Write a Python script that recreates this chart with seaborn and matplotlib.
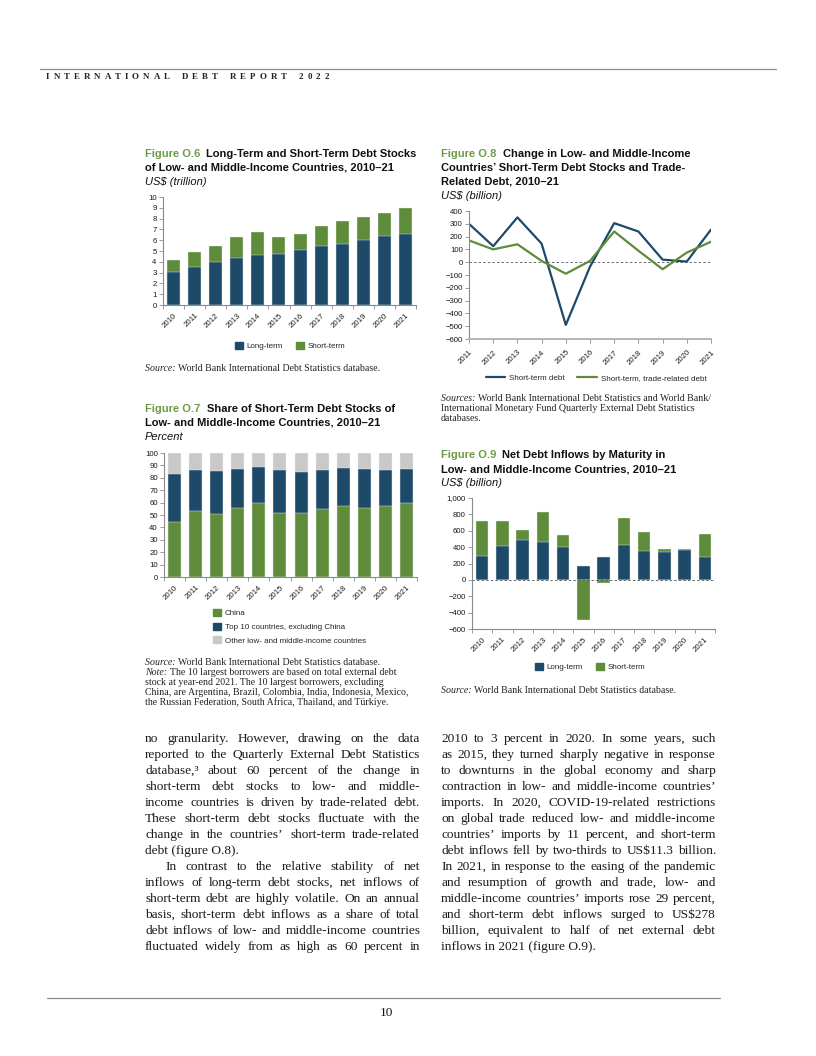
import matplotlib
matplotlib.use('Agg')
import numpy as np
import pandas as pd
import matplotlib.pyplot as plt
import seaborn as sns
from matplotlib.lines import Line2D
from matplotlib.patches import Patch
from matplotlib.ticker import FixedLocator, FuncFormatter

W, H = 816, 1056

years = [str(y) for y in range(2010, 2022)]

# Figure O.6, US$ trillion
o6_long = [3.05, 3.5, 3.95, 4.35, 4.65, 4.7, 5.05, 5.45, 5.65, 6.0, 6.35, 6.55]
o6_short = [1.15, 1.45, 1.55, 1.95, 2.1, 1.6, 1.55, 1.85, 2.1, 2.15, 2.2, 2.45]

# Figure O.7, percent
o7_china = [44.5, 53.5, 50.5, 55.5, 60.0, 52.0, 52.0, 55.0, 57.5, 56.0, 57.5, 59.5]
o7_top10 = [38.5, 32.5, 35.0, 32.0, 29.0, 34.0, 33.0, 31.5, 30.5, 31.0, 29.0, 27.5]

# Figure O.8, US$ billion
o8_years = list(range(2011, 2022))
o8_short = [300, 125, 350, 145, -490, -35, 305, 240, 20, 5, 255]
o8_trade = [170, 100, 140, 10, -90, 10, 240, 90, -55, 75, 160]

# Figure O.9, US$ billion
o9_long = [290, 410, 485, 460, 400, 175, 275, 425, 355, 340, 365, 280]
o9_short = [425, 310, 125, 370, 145, -490, -35, 325, 235, 35, 15, 280]

left_lines = [
    "no granularity. However, drawing on the data",
    "reported to the Quarterly External Debt Statistics",
    "database,\u00b3 about 60 percent of the change in",
    "short-term debt stocks to low- and middle-",
    "income countries is driven by trade-related debt.",
    "These short-term debt stocks fluctuate with the",
    "change in the countries\u2019 short-term trade-related",
    "debt (figure O.8).",
    "In contrast to the relative stability of net",
    "inflows of long-term debt stocks, net inflows of",
    "short-term debt are highly volatile. On an annual",
    "basis, short-term debt inflows as a share of total",
    "debt inflows of low- and middle-income countries",
    "fluctuated widely from as high as 60 percent in",
]
right_lines = [
    "2010 to 3 percent in 2020. In some years, such",
    "as 2015, they turned sharply negative in response",
    "to downturns in the global economy and sharp",
    "contraction in low- and middle-income countries\u2019",
    "imports. In 2020, COVID-19-related restrictions",
    "on global trade reduced low- and middle-income",
    "countries\u2019 imports by 11 percent, and short-term",
    "debt inflows fell by two-thirds to US$11.3 billion.",
    "In 2021, in response to the easing of the pandemic",
    "and resumption of growth and trade, low- and",
    "middle-income countries\u2019 imports rose 29 percent,",
    "and short-term debt inflows surged to US$278",
    "billion, equivalent to half of net external debt",
    "inflows in 2021 (figure O.9).",
]

NAVY = '#1e4a6a'
GREEN = '#5e8c3b'
GREY = '#c9c9c9'
TITLE_GREEN = '#6c9c44'
AXIS = '#8a8a8a'

sns.set_style('ticks')
plt.rcParams['font.family'] = ['Liberation Sans', 'DejaVu Sans']
plt.rcParams['axes.unicode_minus'] = True

fig = plt.figure(figsize=(W / 100, H / 100), dpi=100)
renderer = fig.canvas.get_renderer()

SANS = dict(family=['Liberation Sans', 'DejaVu Sans'])
SERIF = dict(family=['Liberation Serif', 'DejaVu Serif'])
SRC = 7.1
TICK = 5.6
LEG = 5.8


def put(x, y, s, **kw):
    kw.setdefault('va', 'baseline')
    return fig.text(x / W, 1 - y / H, s, **kw)


def width(t):
    return t.get_window_extent(renderer).width


def run(x, y, parts):
    for s, kw in parts:
        t = put(x, y, s, **kw)
        x += width(t)


def hline(x0, x1, y, color='#8c8c8c', lw=0.9):
    fig.add_artist(Line2D([x0 / W, x1 / W], [1 - y / H] * 2,
                          transform=fig.transFigure, color=color, lw=lw))


def px_axes(l, t, r, b):
    return fig.add_axes([l / W, 1 - b / H, (r - l) / W, (b - t) / H])


def style(ax):
    sns.despine(ax=ax)
    for s in ['left', 'bottom']:
        ax.spines[s].set_color(AXIS)
        ax.spines[s].set_linewidth(0.8)
    ax.tick_params(axis='both', which='both', colors=AXIS, labelcolor='#1a1a1a',
                   labelsize=TICK, length=3, width=0.6, pad=1.5)
    ax.set_xlabel('')
    ax.set_ylabel('')
    ax.set_facecolor('none')


def cat_x(ax):
    ax.set_xlim(-0.5, 11.5)
    ax.set_xticks(range(12))
    ax.set_xticklabels(years, rotation=45, ha='right', rotation_mode='anchor')
    ax.xaxis.set_minor_locator(FixedLocator(np.arange(-0.5, 12, 1)))
    ax.tick_params(axis='x', which='major', length=0, pad=5)
    ax.tick_params(axis='x', which='minor', length=3)


def title(x, y, fig_no, lines, sub):
    TS = 8.0
    t = put(x, y, 'Figure ' + fig_no + '  ', color=TITLE_GREEN, fontsize=TS, fontweight='bold', **SANS)
    put(x + width(t), y, lines[0], color='#111111', fontsize=TS, fontweight='bold', **SANS)
    for i, ln in enumerate(lines[1:]):
        put(x, y + 14 * (i + 1), ln, color='#111111', fontsize=TS, fontweight='bold', **SANS)
    put(x, y + 14 * len(lines), sub, color='#111111', fontsize=TS, style='italic', **SANS)


def source(x, y, label, rest, extra=()):
    run(x, y, [(label + ' ', dict(fontsize=SRC, style='italic', color='#222222', **SERIF)),
               (rest, dict(fontsize=SRC, color='#222222', **SERIF))])
    for i, item in enumerate(extra):
        yy = y + 10 * (i + 1)
        if isinstance(item, tuple):
            run(x, yy, [(item[0] + ' ', dict(fontsize=SRC, style='italic', color='#222222', **SERIF)),
                        (item[1], dict(fontsize=SRC, color='#222222', **SERIF))])
        else:
            put(x, yy, item, fontsize=SRC, color='#222222', **SERIF)


def legend(ax, handles, cx, cy, ncol, loc='center', **kw):
    ax.legend(handles=handles, loc=loc, bbox_to_anchor=(cx / W, 1 - cy / H),
              bbox_transform=fig.transFigure, ncol=ncol, frameon=False,
              fontsize=LEG, borderaxespad=0, borderpad=0, **kw)


# ---------------- header / footer ----------------
hline(40, 776, 69)
head = "INTERNATIONAL DEBT REPORT 2022"
hk = dict(fontsize=6.4, fontweight='bold', color='#222222', **SERIF)
glyphs = [put(0, 79, c, **hk) for c in head if c != ' ']
sum_w = sum(width(g) for g in glyphs)
n_gap = sum(1 for a, b in zip(head, head[1:]) if a != ' ' and b != ' ')
track = (283 - sum_w) / (n_gap + 3 * 3)
x = 46
gi = 0
for i, c in enumerate(head):
    if c == ' ':
        x += 2 * track
        continue
    glyphs[gi].set_x(x / W)
    x += width(glyphs[gi]) + track
    gi += 1

hline(47, 720, 998)
put(386, 1016, '10', ha='center', fontsize=9.5, color='#111111', **SERIF)

# ---------------- Figure O.6 ----------------
title(145, 157, 'O.6', ['Long-Term and Short-Term Debt Stocks',
                        'of Low- and Middle-Income Countries, 2010\u201321'], 'US$ (trillion)')
ax6 = px_axes(163, 197, 416, 305)
df6 = pd.DataFrame({'year': years, 'long': o6_long, 'short': o6_short})
df6['total'] = df6['long'] + df6['short']
sns.barplot(data=df6, x='year', y='total', color=GREEN, saturation=1, width=0.62,
            errorbar=None, edgecolor='#e8eee8', linewidth=0.3, ax=ax6)
sns.barplot(data=df6, x='year', y='long', color=NAVY, saturation=1, width=0.62,
            errorbar=None, edgecolor='#e8eee8', linewidth=0.3, ax=ax6)
style(ax6)
cat_x(ax6)
ax6.set_ylim(0, 10)
ax6.set_yticks(range(0, 11))
legend(ax6, [Patch(color=NAVY, label='Long-term'), Patch(color=GREEN, label='Short-term')],
       290, 346, 2, handlelength=1.0, handleheight=1.0, handletextpad=0.5, columnspacing=1.6)
source(145, 371, 'Source:', 'World Bank International Debt Statistics database.')

# ---------------- Figure O.7 ----------------
title(145, 412, 'O.7', ['Share of Short-Term Debt Stocks of',
                        'Low- and Middle-Income Countries, 2010\u201321'], 'Percent')
ax7 = px_axes(164, 453, 417, 577)
df7 = pd.DataFrame({'year': years, 'china': o7_china, 'top10': o7_top10})
df7['cum'] = df7['china'] + df7['top10']
df7['all'] = 100.0
sns.barplot(data=df7, x='year', y='all', color=GREY, saturation=1, width=0.62,
            errorbar=None, edgecolor='#f2f2f2', linewidth=0.3, ax=ax7)
sns.barplot(data=df7, x='year', y='cum', color=NAVY, saturation=1, width=0.62,
            errorbar=None, edgecolor='#f2f2f2', linewidth=0.3, ax=ax7)
sns.barplot(data=df7, x='year', y='china', color=GREEN, saturation=1, width=0.62,
            errorbar=None, edgecolor='#f2f2f2', linewidth=0.3, ax=ax7)
style(ax7)
cat_x(ax7)
ax7.set_ylim(0, 100)
ax7.set_yticks(range(0, 101, 10))
legend(ax7, [Patch(color=GREEN, label='China'),
             Patch(color=NAVY, label='Top 10 countries, excluding China'),
             Patch(color=GREY, label='Other low- and middle-income countries')],
       213, 609, 1, loc='upper left', handlelength=1.0, handleheight=1.0,
       handletextpad=0.5, labelspacing=0.65)
source(145, 665, 'Source:', 'World Bank International Debt Statistics database.',
       [('Note:', 'The 10 largest borrowers are based on total external debt'),
        'stock at year-end 2021. The 10 largest borrowers, excluding',
        'China, are Argentina, Brazil, Colombia, India, Indonesia, Mexico,',
        'the Russian Federation, South Africa, Thailand, and T\u00fcrkiye.'])

# ---------------- Figure O.8 ----------------
title(441, 157, 'O.8', ['Change in Low- and Middle-Income',
                        'Countries\u2019 Short-Term Debt Stocks and Trade-',
                        'Related Debt, 2010\u201321'], 'US$ (billion)')
ax8 = px_axes(469, 211, 711, 339)
ax8.axhline(0, color='#555555', lw=0.6, ls=(0, (3, 2.5)))
sns.lineplot(x=o8_years, y=o8_short, color=NAVY, lw=1.6, ax=ax8)
sns.lineplot(x=o8_years, y=o8_trade, color=GREEN, lw=1.6, ax=ax8)
style(ax8)
ax8.spines['bottom'].set_color('#b5b5b5')
ax8.spines['bottom'].set_linewidth(1.4)
ax8.set_xlim(2011, 2021)
ax8.set_xticks(o8_years)
ax8.set_xticklabels([str(y) for y in o8_years], rotation=45, ha='right', rotation_mode='anchor')
ax8.tick_params(axis='x', pad=4)
ax8.set_ylim(-600, 400)
ax8.set_yticks(range(-600, 401, 100))
legend(ax8, [Line2D([], [], color=NAVY, lw=1.6, label='Short-term debt'),
             Line2D([], [], color=GREEN, lw=1.6, label='Short-term, trade-related debt')],
       596, 378, 2, handlelength=2.4, handletextpad=0.5, columnspacing=1.6)
source(441, 401, 'Sources:', 'World Bank International Debt Statistics and World Bank/',
       ['International Monetary Fund Quarterly External Debt Statistics', 'databases.'])

# ---------------- Figure O.9 ----------------
title(441, 458, 'O.9', ['Net Debt Inflows by Maturity in',
                        'Low- and Middle-Income Countries, 2010\u201321'], 'US$ (billion)')
ax9 = px_axes(472, 498, 715, 629)
df9 = pd.DataFrame({'year': years, 'long': o9_long, 'short': o9_short})
df9['pos'] = df9['long'] + df9['short'].clip(lower=0)
df9['neg'] = df9['short'].clip(upper=0)
sns.barplot(data=df9, x='year', y='pos', color=GREEN, saturation=1, width=0.62,
            errorbar=None, edgecolor='#e8eee8', linewidth=0.3, ax=ax9)
sns.barplot(data=df9, x='year', y='long', color=NAVY, saturation=1, width=0.62,
            errorbar=None, edgecolor='#e8eee8', linewidth=0.3, ax=ax9)
sns.barplot(data=df9, x='year', y='neg', color=GREEN, saturation=1, width=0.62,
            errorbar=None, edgecolor='#e8eee8', linewidth=0.3, ax=ax9)
ax9.axhline(0, color='#555555', lw=0.6, ls=(0, (3, 2.5)))
style(ax9)
cat_x(ax9)
ax9.set_ylim(-600, 1000)
ax9.set_yticks(range(-600, 1001, 200))
ax9.yaxis.set_major_formatter(FuncFormatter(lambda v, p: f'{v:,.0f}'.replace('-', '\u2212')))
legend(ax9, [Patch(color=NAVY, label='Long-term'), Patch(color=GREEN, label='Short-term')],
       590, 667, 2, handlelength=1.0, handleheight=1.0, handletextpad=0.5, columnspacing=1.6)
source(441, 693, 'Source:', 'World Bank International Debt Statistics database.')

# ---------------- body text ----------------
BODY = dict(fontsize=9.6, color='#1a1a1a', **SERIF)
probe = [put(0, -100, ln, **BODY) for ln in left_lines + right_lines]
maxw = max(width(p) for p in probe)
for p in probe:
    p.remove()
if maxw > 273:
    BODY['fontsize'] = BODY['fontsize'] * 273 / maxw


def text_line(x0, x1, y, line, last=False):
    if last:
        put(x0, y, line, **BODY)
        return
    words = line.split(' ')
    ts = [put(x0, y, w, **BODY) for w in words]
    ws = [width(t) for t in ts]
    gap = (x1 - x0 - sum(ws)) / (len(words) - 1)
    x = x0
    for t, w in zip(ts, ws):
        t.set_x(x / W)
        x += w + gap


for i, ln in enumerate(left_lines):
    y = 742 + 16 * i
    if i == 8:
        text_line(165, 420, y, ln)
    else:
        text_line(145, 420, y, ln, last=(i == 7))
for i, ln in enumerate(right_lines):
    text_line(441, 716, 742 + 16 * i, ln, last=(i == 13))

fig.savefig('out.png', dpi=100)
